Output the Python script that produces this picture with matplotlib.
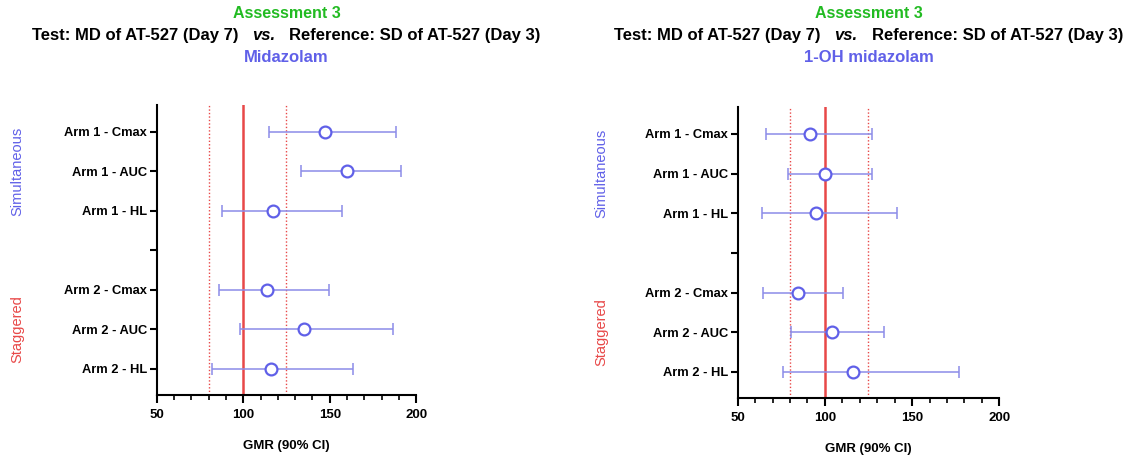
import matplotlib
matplotlib.use("Agg")
import matplotlib.pyplot as plt
import numpy as np
from matplotlib.offsetbox import TextArea, HPacker, AnnotationBbox
from matplotlib.ticker import MultipleLocator

plt.rcParams['font.family'] = ['Liberation Sans', 'DejaVu Sans']

# ---- data ----
tick_labels = ["Arm 1 - Cmax", "Arm 1 - AUC", "Arm 1 - HL", "",
               "Arm 2 - Cmax", "Arm 2 - AUC", "Arm 2 - HL"]
row_labels = ["Arm 1 - Cmax", "Arm 1 - AUC", "Arm 1 - HL",
              "Arm 2 - Cmax", "Arm 2 - AUC", "Arm 2 - HL"]

mid_gmr = [147.2, 159.8, 117.4, 113.5, 135.1, 115.9]
mid_lo = [114.7, 133.4, 87.7, 86.0, 97.9, 81.9]
mid_hi = [188.2, 191.1, 157.0, 149.4, 186.5, 163.2]

oh_gmr = [91.6, 100.1, 95.1, 84.4, 104.1, 116.3]
oh_lo = [66.4, 79.0, 63.9, 64.5, 80.6, 76.2]
oh_hi = [126.8, 126.8, 141.3, 110.4, 133.9, 176.9]

ref_line = 100
bounds = [80, 125]
x_ticks = [50, 100, 150, 200]

title_top = "Assessment 3"
title_test = "Test: MD of AT-527 (Day 7)"
title_vs = "vs."
title_ref = "Reference: SD of AT-527 (Day 3)"
analytes = ["Midazolam", "1-OH midazolam"]
groups = ["Simultaneous", "Staggered"]
xlabel = "GMR (90% CI)"

GREEN = "#22bb22"
BLUE = "#6060e8"
RED = "#e84848"
EBLUE = "#8c8ce8"

fig = plt.figure(figsize=(11.42, 4.57), dpi=100)
axes_rects = [[0.1372, 0.1357, 0.2273, 0.6345],
              [0.6460, 0.1290, 0.2290, 0.6370]]
datasets = [(mid_gmr, mid_lo, mid_hi), (oh_gmr, oh_lo, oh_hi)]
group_x = [0.0155, 0.527]

for k, (rect, (g, lo, hi)) in enumerate(zip(axes_rects, datasets)):
    ax = fig.add_axes(rect)
    g = np.array(g); lo = np.array(lo); hi = np.array(hi)
    pos = np.array([tick_labels.index(r) for r in row_labels])
    ax.axvline(ref_line, color=RED, lw=1.8, zorder=2)
    for b in bounds:
        ax.axvline(b, color=RED, lw=1.0, ls=(0, (1, 1.5)), zorder=2)
    ax.errorbar(g, pos, xerr=[g - lo, hi - g], fmt='none', ecolor=EBLUE,
                elinewidth=1.1, capsize=4, capthick=1.1, zorder=3)
    ax.plot(g, pos, 'o', ms=8.5, mfc='white', mec=BLUE, mew=1.6,
            ls='none', zorder=4)
    ax.set_xlim(50, 200)
    ax.set_ylim(6.66, -0.68)
    ax.set_yticks(range(len(tick_labels)))
    ax.set_yticklabels(tick_labels, fontsize=9.3, fontweight='bold')
    ax.set_xticks(x_ticks)
    ax.set_xticklabels([str(t) for t in x_ticks], fontsize=9.5, fontweight='bold')
    ax.xaxis.set_minor_locator(MultipleLocator(10))
    for s in ['top', 'right']:
        ax.spines[s].set_visible(False)
    for s in ['left', 'bottom']:
        ax.spines[s].set_linewidth(1.5)
    ax.tick_params(axis='y', length=5, width=1.5, pad=2)
    ax.tick_params(axis='x', which='major', length=6, width=1.5, pad=4)
    ax.tick_params(axis='x', which='minor', length=3.5, width=1.2)
    ax.set_xlabel(xlabel, fontsize=9.5, fontweight='bold', labelpad=14)

    # group labels
    p0 = ax.transData.transform((50, 1))[1]
    p1 = ax.transData.transform((50, 5))[1]
    fy0 = fig.transFigure.inverted().transform((0, p0))[1]
    fy1 = fig.transFigure.inverted().transform((0, p1))[1]
    fig.text(group_x[k], fy0, groups[0], rotation=90, color=BLUE,
             fontsize=10.5, ha='center', va='center')
    fig.text(group_x[k], fy1, groups[1], rotation=90, color=RED,
             fontsize=10.5, ha='center', va='center')

    # titles
    cx = rect[0] + rect[2] / 2
    fig.text(cx, 0.970, title_top, color=GREEN, fontsize=11.5,
             fontweight='bold', ha='center', va='center')
    t1 = TextArea(title_test, textprops=dict(fontsize=12, fontweight='bold', color='black'))
    t2 = TextArea(title_vs, textprops=dict(fontsize=12, fontweight='bold',
                                           style='italic', color='black'))
    t3 = TextArea(title_ref, textprops=dict(fontsize=12, fontweight='bold', color='black'))
    hp = HPacker(children=[t1, t2, t3], align='baseline', pad=0, sep=10)
    ab = AnnotationBbox(hp, (cx, 0.922), xycoords='figure fraction',
                        frameon=False, box_alignment=(0.5, 0.5), pad=0)
    fig.add_artist(ab)
    fig.text(cx, 0.874, analytes[k], color=BLUE, fontsize=12,
             fontweight='bold', ha='center', va='center')

fig.savefig("out.png", dpi=100)
